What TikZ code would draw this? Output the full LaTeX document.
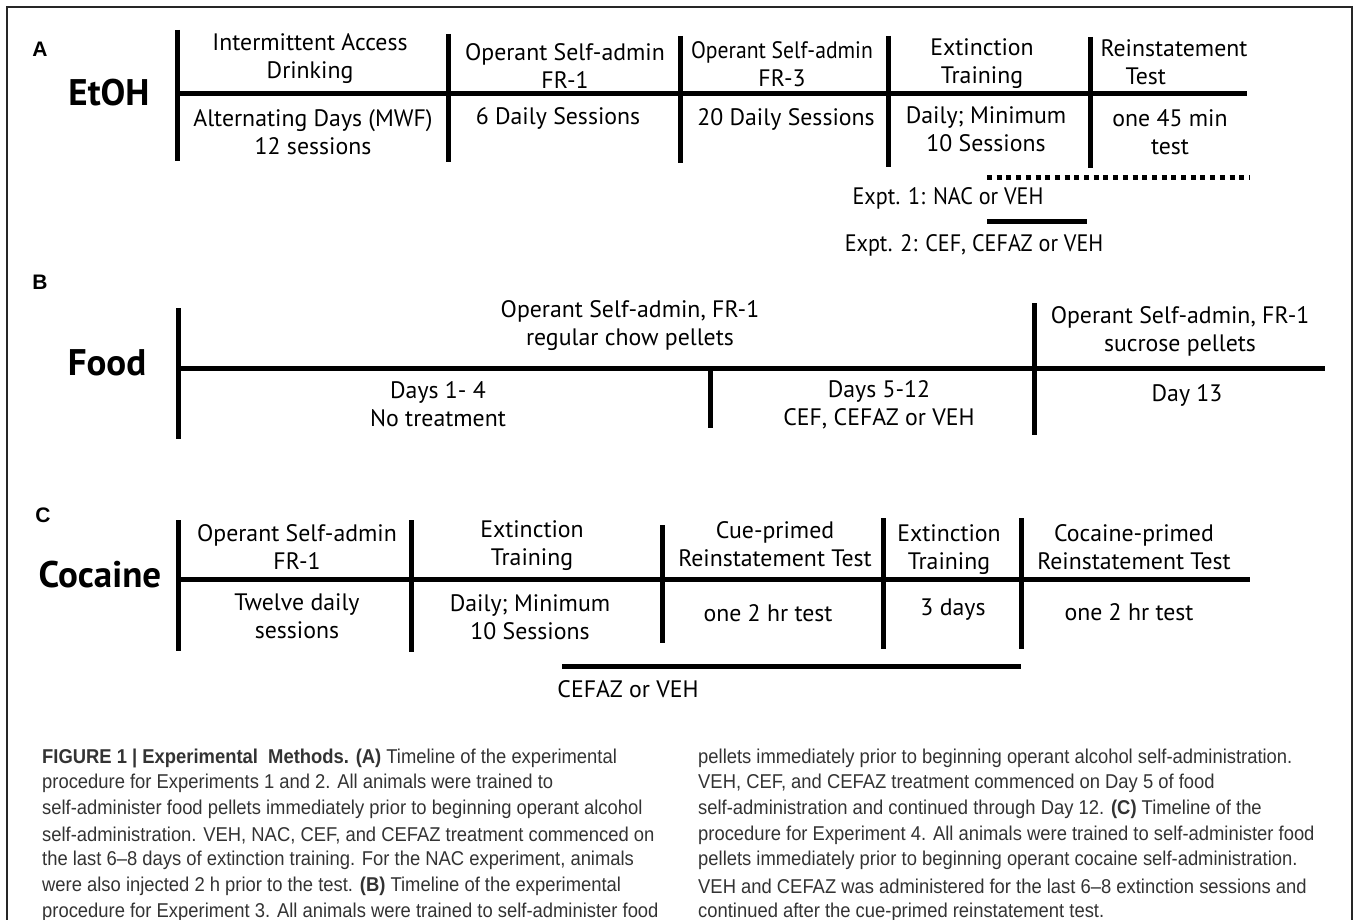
\documentclass[tikz,border=0pt]{standalone}
\usepackage{fontspec}
\newfontfamily\tlfont{PT Sans}
\newfontfamily\capfont[FakeStretch=0.92]{Liberation Sans}
\newfontfamily\panfont{Liberation Sans}
\newcommand{\tl}{\tlfont\fontsize{23.8}{28}\selectfont}
\newcommand{\cp}{\capfont\fontsize{20}{24}\selectfont}
\newcommand{\narrow}[2]{\scalebox{#1}[1]{#2}}
\begin{document}
\begin{tikzpicture}[x=1pt,y=-1pt,
        bar/.style={line width=5pt},
        lbl/.style={font=\tl,align=center,inner sep=0pt},
        grp/.style={font=\tlfont\bfseries\fontsize{37}{40}\selectfont,inner sep=0pt},
        pan/.style={font=\panfont\bfseries\fontsize{21}{22}\selectfont,inner sep=0pt},
        captxt/.style={font=\cp,color=black!80,anchor=west,inner sep=0pt}]
    \useasboundingbox (0,0) rectangle (1357,920);
    \draw[line width=2pt,black!85] (7,920) -- (7,7) -- (1352,7) -- (1352,920);
    % A: EtOH
    \node[pan] (pa) at (40,49) {A};
    \node[grp] (etoh) at (109,93) {EtOH};
    \draw[bar] (177,94) -- (1247,94);
    \foreach \x/\t/\b in {177/30/161,448/34/162,680/36/163,888/36/167,1090/37/168}
        \draw[bar] (\x,\t) -- (\x,\b);
    \node[lbl] (a1) at (310,59) {Intermittent Access\\Drinking};
    \node[lbl] (a1b) at (313,132) {Alternating Days (MWF)\\12 sessions};
    \node[lbl] (a2) at (565,66) {Operant Self-admin\\FR-1};
    \node[lbl] (a2b) at (558,118) {6 Daily Sessions};
    \node[lbl] (a3) at (782,64) {\narrow{0.91}{Operant Self-admin}\\FR-3};
    \node[lbl] (a3b) at (786,119) {20 Daily Sessions};
    \node[lbl] (a4) at (982,64) {Extinction\\Training};
    \node[lbl] (a4b) at (986,129) {Daily; Minimum\\10 Sessions};
    \node[lbl,align=left] (a5) at (1174,62) {Reinstatement\\\hspace*{25pt}Test};
    \node[lbl] (a5b) at (1170,132) {one 45 min\\test};
    \draw[bar,dash pattern=on 5pt off 4.7pt] (987,178) -- (1249,178);
    \node[lbl] (ex1) at (948,198) {\narrow{0.93}{Expt. 1: NAC or VEH}};
    \draw[bar] (987,222) -- (1087,222);
    \node[lbl] (ex2) at (974,245) {\narrow{0.93}{Expt. 2: CEF, CEFAZ or VEH}};
    % B: Food
    \node[pan] (pb) at (40,282) {B};
    \node[grp] (food) at (107,363) {Food};
    \draw[bar] (178,368) -- (1325,368);
    \draw[bar] (178,308) -- (178,439);
    \draw[bar] (710,368) -- (710,428);
    \draw[bar] (1034,303) -- (1034,435);
    \node[lbl] (b1) at (630,326) {Operant Self-admin, FR-1\\regular chow pellets};
    \node[lbl] (b1b) at (438,404) {Days 1- 4\\No treatment};
    \node[lbl] (b2b) at (879,405) {Days 5-12\\CEF, CEFAZ or VEH};
    \node[lbl] (b3) at (1180,331) {Operant Self-admin, FR-1\\sucrose pellets};
    \node[lbl] (b3b) at (1187,395) {Day 13};
    % C: Cocaine
    \node[pan] (pc) at (43,515) {C};
    \node[grp] (coc) at (100,575) {Cocaine};
    \draw[bar] (178,579) -- (1250,579);
    \foreach \x/\t/\b in {178/520/651,411/520/652,662/525/643,883/518/649,1021/518/649}
        \draw[bar] (\x,\t) -- (\x,\b);
    \node[lbl] (c1) at (297,547) {Operant Self-admin\\FR-1};
    \node[lbl] (c1b) at (297,616) {Twelve daily\\sessions};
    \node[lbl] (c2) at (532,546) {Extinction\\Training};
    \node[lbl] (c2b) at (530,617) {Daily; Minimum\\10 Sessions};
    \node[lbl] (c3) at (775,544) {Cue-primed\\Reinstatement Test};
    \node[lbl] (c3b) at (768,613) {one 2 hr test};
    \node[lbl] (c4) at (949,550) {Extinction\\Training};
    \node[lbl] (c4b) at (953,610) {3 days};
    \node[lbl] (c5) at (1134,547) {Cocaine-primed\\Reinstatement Test};
    \node[lbl] (c5b) at (1129,612) {one 2 hr test};
    \draw[bar] (562,666) -- (1021,666);
    \node[lbl] (cefaz) at (628,689) {CEFAZ or VEH};
    % caption
    \node[captxt] (l1) at (42,758) {\textbf{FIGURE 1 | Experimental\ \ Methods. (A)} Timeline of the experimental};
    \node[captxt] (l2) at (42,783.7) {procedure for Experiments 1 and 2. All animals were trained to};
    \node[captxt] (l3) at (42,809.4) {self-administer food pellets immediately prior to beginning operant alcohol};
    \node[captxt] (l4) at (42,835.1) {self-administration. VEH, NAC, CEF, and CEFAZ treatment commenced on};
    \node[captxt] (l5) at (42,860.8) {the last 6–8 days of extinction training. For the NAC experiment, animals};
    \node[captxt] (l6) at (42,886.5) {were also injected 2 h prior to the test. \textbf{(B)} Timeline of the experimental};
    \node[captxt] (l7) at (42,912.2) {procedure for Experiment 3. All animals were trained to self-administer food};
    \node[captxt] (r1) at (698,758) {pellets immediately prior to beginning operant alcohol self-administration.};
    \node[captxt] (r2) at (698,783.7) {VEH, CEF, and CEFAZ treatment commenced on Day 5 of food};
    \node[captxt] (r3) at (698,809.4) {self-administration and continued through Day 12. \textbf{(C)} Timeline of the};
    \node[captxt] (r4) at (698,835.1) {procedure for Experiment 4. All animals were trained to self-administer food};
    \node[captxt] (r5) at (698,860.8) {pellets immediately prior to beginning operant cocaine self-administration.};
    \node[captxt] (r6) at (698,886.5) {VEH and CEFAZ was administered for the last 6–8 extinction sessions and};
    \node[captxt] (r7) at (698,912.2) {continued after the cue-primed reinstatement test.};
\end{tikzpicture}
\end{document}
